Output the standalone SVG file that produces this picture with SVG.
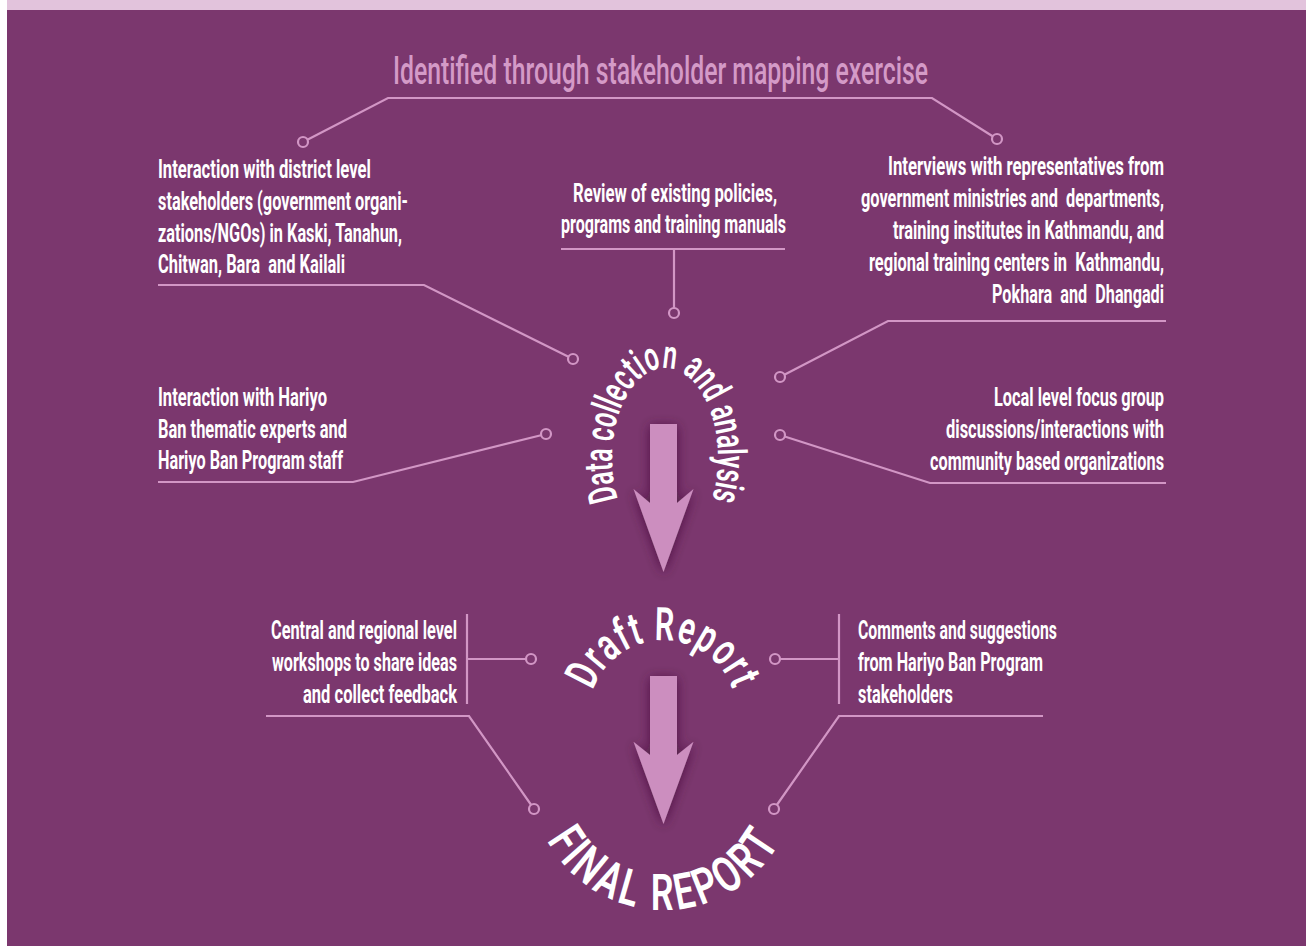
<svg xmlns="http://www.w3.org/2000/svg" width="1311" height="946" viewBox="0 0 1311 946">
  <defs>
    <style>
      .bg { fill: #7b376e; }
      .band { fill: #e2c3dc; }
      .wire { fill: none; stroke: #d296c5; stroke-width: 2.2; stroke-linejoin: miter; }
      .dot { fill: #7b376e; stroke: #d296c5; stroke-width: 2.2; }
      .lbl { font-family: Roboto, "Liberation Sans", sans-serif; font-weight: 700; font-size: 26px; fill: #ffffff; white-space: pre; }
      .end { text-anchor: end; }
      .title { font-family: Roboto, "Liberation Sans", sans-serif; font-weight: 500; font-size: 38px; fill: #d49ac7; }
      .arc { font-family: Roboto, "Liberation Sans", sans-serif; fill: #ffffff; white-space: pre; }
      .arrow { fill: #cc8ebf; filter: url(#halo); }
    </style>
    <filter id="halo" x="-60%" y="-30%" width="220%" height="160%">
      <feDropShadow dx="0" dy="2" stdDeviation="6" flood-color="#3f0f37" flood-opacity="0.75"/>
    </filter>
    <path id="arcData" d="M 621.6 509.6 A 53 90 0 0 1 665 368 A 53 90 0 0 1 708.4 509.6"/>
    <path id="arcDraft" d="M 589.3 707.6 A 74 74 0 0 1 736.7 707.6"/>
    <path id="arcFinal" d="M 539 822.5 A 133 133 0 0 0 789 822.5"/>
  </defs>

  <!-- page background -->
  <rect x="0" y="0" width="1311" height="946" fill="#ffffff"/>
  <rect class="band" x="7" y="0" width="1299" height="10"/>
  <rect class="bg" x="7" y="10" width="1299" height="936"/>

  <!-- connectors -->
  <g id="connectors">
    <polyline class="wire" points="303,142 388,98 932,98 997,139"/>
    <polyline class="wire" points="158,285 424,285 573,359"/>
    <line class="wire" x1="561" y1="249" x2="785" y2="249"/>
    <line class="wire" x1="674" y1="249" x2="674" y2="313"/>
    <polyline class="wire" points="1166,321 888,321 780,377"/>
    <polyline class="wire" points="158,482 353,482 546,434"/>
    <polyline class="wire" points="1166,483 930,483 780,435"/>
    <line class="wire" x1="467" y1="614" x2="467" y2="704"/>
    <line class="wire" x1="467" y1="659" x2="531" y2="659"/>
    <polyline class="wire" points="266,716 469,716 534,809"/>
    <line class="wire" x1="839" y1="614" x2="839" y2="704"/>
    <line class="wire" x1="839" y1="659" x2="775" y2="659"/>
    <polyline class="wire" points="1043,716 839,716 774,809"/>
    <circle class="dot" cx="303" cy="142" r="5"/>
    <circle class="dot" cx="997" cy="139" r="5"/>
    <circle class="dot" cx="573" cy="359" r="5"/>
    <circle class="dot" cx="674" cy="313" r="5"/>
    <circle class="dot" cx="780" cy="377" r="5"/>
    <circle class="dot" cx="546" cy="434" r="5"/>
    <circle class="dot" cx="780" cy="435" r="5"/>
    <circle class="dot" cx="531" cy="659" r="5"/>
    <circle class="dot" cx="534" cy="809" r="5"/>
    <circle class="dot" cx="775" cy="659" r="5"/>
    <circle class="dot" cx="774" cy="809" r="5"/>
  </g>

  <g id="title">
    <text class="title" x="393" y="84" textLength="535" lengthAdjust="spacingAndGlyphs">Identified through stakeholder mapping exercise</text>
  </g>

  <g id="district-stakeholders">
    <text class="lbl" x="158" y="178" textLength="213" lengthAdjust="spacingAndGlyphs">Interaction with district level</text>
    <text class="lbl" x="158" y="210" textLength="250" lengthAdjust="spacingAndGlyphs">stakeholders (government organi-</text>
    <text class="lbl" x="158" y="242" textLength="244" lengthAdjust="spacingAndGlyphs">zations/NGOs) in Kaski, Tanahun,</text>
    <text class="lbl" x="158" y="273" textLength="187" lengthAdjust="spacingAndGlyphs">Chitwan, Bara  and Kailali</text>
  </g>

  <g id="policy-review">
    <text class="lbl" x="573" y="202" textLength="204" lengthAdjust="spacingAndGlyphs">Review of existing policies,</text>
    <text class="lbl" x="561" y="233" textLength="225" lengthAdjust="spacingAndGlyphs">programs and training manuals</text>
  </g>

  <g id="interviews">
    <text class="lbl end" x="1164" y="175" textLength="276" lengthAdjust="spacingAndGlyphs">Interviews with representatives from</text>
    <text class="lbl end" x="1164" y="207" textLength="303" lengthAdjust="spacingAndGlyphs">government ministries and  departments,</text>
    <text class="lbl end" x="1164" y="239" textLength="271" lengthAdjust="spacingAndGlyphs">training institutes in Kathmandu, and</text>
    <text class="lbl end" x="1164" y="271" textLength="295" lengthAdjust="spacingAndGlyphs">regional training centers in  Kathmandu,</text>
    <text class="lbl end" x="1164" y="303" textLength="172" lengthAdjust="spacingAndGlyphs">Pokhara  and  Dhangadi</text>
  </g>

  <g id="thematic-experts">
    <text class="lbl" x="158" y="406" textLength="169" lengthAdjust="spacingAndGlyphs">Interaction with Hariyo</text>
    <text class="lbl" x="158" y="438" textLength="189" lengthAdjust="spacingAndGlyphs">Ban thematic experts and</text>
    <text class="lbl" x="158" y="469" textLength="185" lengthAdjust="spacingAndGlyphs">Hariyo Ban Program staff</text>
  </g>

  <g id="focus-groups">
    <text class="lbl end" x="1164" y="406" textLength="170" lengthAdjust="spacingAndGlyphs">Local level focus group</text>
    <text class="lbl end" x="1164" y="438" textLength="218" lengthAdjust="spacingAndGlyphs">discussions/interactions with</text>
    <text class="lbl end" x="1164" y="470" textLength="234" lengthAdjust="spacingAndGlyphs">community based organizations</text>
  </g>

  <g id="data-collection">
    <path class="arrow" d="M650,424 H677 V503 L693.5,489 L663.5,572 L633.5,489 L650,503 Z"/>
    <text class="arc" font-size="40" font-weight="600"><textPath href="#arcData" startOffset="50%" text-anchor="middle" textLength="312" lengthAdjust="spacingAndGlyphs">Data collection and analysis</textPath></text>
  </g>

  <g id="workshops">
    <text class="lbl end" x="457" y="639" textLength="186" lengthAdjust="spacingAndGlyphs">Central and regional level</text>
    <text class="lbl end" x="457" y="671" textLength="185" lengthAdjust="spacingAndGlyphs">workshops to share ideas</text>
    <text class="lbl end" x="457" y="703" textLength="154" lengthAdjust="spacingAndGlyphs">and collect feedback</text>
  </g>

  <g id="comments">
    <text class="lbl" x="858" y="639" textLength="199" lengthAdjust="spacingAndGlyphs">Comments and suggestions</text>
    <text class="lbl" x="858" y="671" textLength="185" lengthAdjust="spacingAndGlyphs">from Hariyo Ban Program</text>
    <text class="lbl" x="858" y="703" textLength="95" lengthAdjust="spacingAndGlyphs">stakeholders</text>
  </g>

  <g id="draft-report">
    <path class="arrow" d="M650,676 H677 V755 L693.5,741.7 L663.5,824 L633.5,741.7 L650,755 Z"/>
    <text class="arc" font-size="46" font-weight="600" letter-spacing="2"><textPath href="#arcDraft" startOffset="50%" text-anchor="middle" textLength="184" lengthAdjust="spacingAndGlyphs">Draft Report</textPath></text>
  </g>

  <g id="final-report">
    <text class="arc" font-size="50" font-weight="600" letter-spacing="5"><textPath href="#arcFinal" startOffset="50%" text-anchor="middle" textLength="286" lengthAdjust="spacingAndGlyphs">FINAL REPORT</textPath></text>
  </g>
</svg>
